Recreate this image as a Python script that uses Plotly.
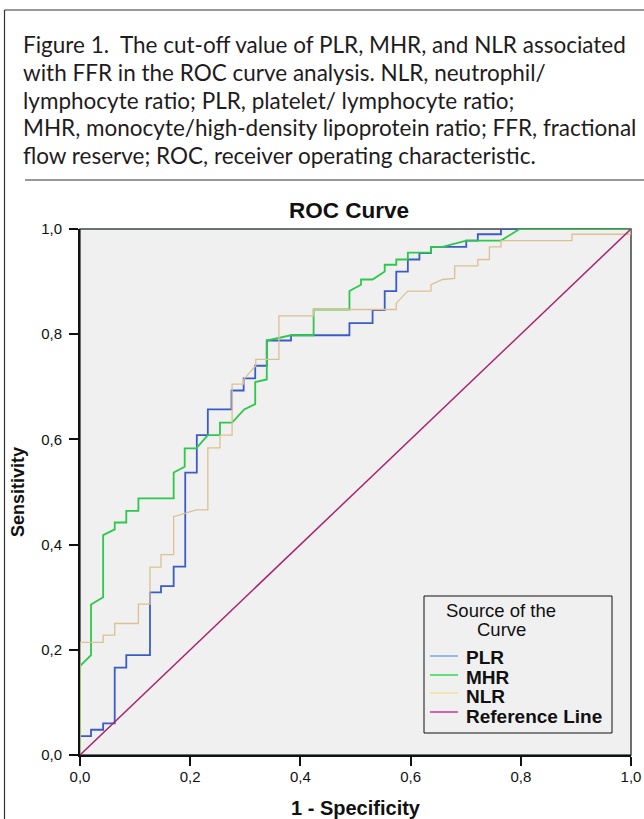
import plotly.graph_objects as go

# ---- data ----
plr_fpr = [0, 0, 0.020, 0.020, 0.042, 0.042, 0.063, 0.063, 0.084, 0.084, 0.127, 0.127,
           0.147, 0.147, 0.170, 0.170, 0.191, 0.191, 0.212, 0.212, 0.232, 0.232, 0.275, 0.275,
           0.297, 0.297, 0.318, 0.318, 0.339, 0.339, 0.383, 0.383, 0.489, 0.489, 0.531, 0.531,
           0.553, 0.553, 0.574, 0.574, 0.595, 0.595, 0.616, 0.616, 0.637, 0.637, 0.701, 0.701,
           0.722, 0.722, 0.764, 0.764, 1.0]
plr_tpr = [0, 0.036, 0.036, 0.048, 0.048, 0.060, 0.060, 0.166, 0.166, 0.190, 0.190, 0.309,
           0.309, 0.321, 0.321, 0.358, 0.358, 0.537, 0.537, 0.608, 0.608, 0.657, 0.657, 0.693,
           0.693, 0.716, 0.716, 0.740, 0.740, 0.788, 0.788, 0.798, 0.798, 0.821, 0.821, 0.846,
           0.846, 0.882, 0.882, 0.919, 0.919, 0.942, 0.942, 0.954, 0.954, 0.966, 0.966, 0.978,
           0.978, 0.990, 0.990, 1.0, 1.0]

mhr_fpr = [0, 0, 0.020, 0.020, 0.042, 0.042, 0.063, 0.063, 0.084, 0.084, 0.106, 0.106,
           0.170, 0.170, 0.190, 0.190, 0.211, 0.232, 0.254, 0.254, 0.276, 0.298, 0.318, 0.318,
           0.339, 0.339, 0.383, 0.424, 0.424, 0.489, 0.489, 0.510, 0.510, 0.531, 0.553, 0.553,
           0.574, 0.574, 0.595, 0.595, 0.637, 0.637, 0.658, 0.701, 0.764, 0.798, 1.0]
mhr_tpr = [0, 0.169, 0.190, 0.286, 0.300, 0.418, 0.429, 0.442, 0.442, 0.464, 0.464, 0.488,
           0.488, 0.537, 0.548, 0.583, 0.583, 0.608, 0.608, 0.632, 0.632, 0.657, 0.667, 0.709,
           0.714, 0.788, 0.798, 0.798, 0.847, 0.847, 0.882, 0.894, 0.904, 0.904, 0.919, 0.932,
           0.932, 0.942, 0.942, 0.955, 0.955, 0.966, 0.966, 0.978, 0.978, 1.0, 1.0]

nlr_fpr = [0, 0, 0.042, 0.042, 0.063, 0.063, 0.106, 0.106, 0.127, 0.127, 0.147, 0.147,
           0.170, 0.170, 0.211, 0.232, 0.232, 0.254, 0.254, 0.276, 0.276, 0.297, 0.297, 0.319,
           0.319, 0.361, 0.361, 0.424, 0.424, 0.574, 0.574, 0.595, 0.637, 0.637, 0.658, 0.680,
           0.680, 0.722, 0.722, 0.743, 0.743, 0.764, 0.764, 0.893, 0.893, 1.0, 1.0]
nlr_tpr = [0, 0.214, 0.214, 0.228, 0.228, 0.250, 0.250, 0.287, 0.287, 0.357, 0.357, 0.381,
           0.381, 0.453, 0.466, 0.466, 0.584, 0.584, 0.608, 0.608, 0.705, 0.705, 0.714, 0.740,
           0.752, 0.752, 0.835, 0.835, 0.847, 0.847, 0.859, 0.882, 0.882, 0.894, 0.904, 0.906,
           0.930, 0.930, 0.942, 0.942, 0.966, 0.966, 0.978, 0.978, 0.990, 0.990, 1.0]

ref_fpr = [0, 1]
ref_tpr = [0, 1]

series_names = ["PLR", "MHR", "NLR", "Reference Line"]
series_colors = ["#3a5cc8", "#2cc84a", "#dbc092", "#a8246f"]
legend_colors = ["#7ea6e6", "#33d957", "#f3e09c", "#cc3399"]

tick_vals = [0, 0.2, 0.4, 0.6, 0.8, 1.0]
tick_text = ["0,0", "0,2", "0,4", "0,6", "0,8", "1,0"]

caption_lines = [
    "Figure 1.  The cut-off value of PLR, MHR, and NLR associated",
    "with FFR in the ROC curve analysis. NLR, neutrophil/",
    "lymphocyte ratio; PLR, platelet/ lymphocyte ratio;",
    "MHR, monocyte/high-density lipoprotein ratio; FFR, fractional",
    "flow reserve; ROC, receiver operating characteristic.",
]

# ---- figure ----
W, H = 644, 819
ML, MR, MT, MB = 80, 13, 229, 64
PW, PH = W - ML - MR, H - MT - MB


def px_x(px):
    return (px - ML) / PW


def px_y(py):
    return (H - MB - py) / PH


fig = go.Figure()
xs = [plr_fpr, mhr_fpr, nlr_fpr, ref_fpr]
ys = [plr_tpr, mhr_tpr, nlr_tpr, ref_tpr]
widths = [1.8, 1.8, 1.3, 1.5]
for x, y, name, col, w in zip(xs, ys, series_names, series_colors, widths):
    fig.add_trace(go.Scatter(x=x, y=y, mode="lines", name=name, showlegend=False,
                             line=dict(color=col, width=w)))

axis_common = dict(
    range=[0, 1], tickvals=tick_vals, ticktext=tick_text,
    showgrid=False, zeroline=False, showline=True, linecolor="#111111", linewidth=2,
    ticks="outside", ticklen=9, tickwidth=2, tickcolor="#111111",
    tickfont=dict(family="Liberation Sans", size=15, color="#111111"),
    layer="below traces",
)

fig.update_layout(
    width=W, height=H,
    margin=dict(l=ML, r=MR, t=MT, b=MB, autoexpand=False),
    paper_bgcolor="white", plot_bgcolor="#f0f0f0",
    xaxis=dict(**axis_common, ticklabelstandoff=-2,
               title=dict(text="1 - Specificity", standoff=18,
                          font=dict(family="Liberation Sans", size=20, color="#111111",
                                    weight="bold"))),
    yaxis=dict(**axis_common, ticklabelstandoff=4,
               title=dict(text="Sensitivity", standoff=12,
                          font=dict(family="Liberation Sans", size=18, color="#111111",
                                    weight="bold"))),
    title=dict(text="ROC Curve", xref="paper", x=px_x(349), xanchor="center",
               yref="container", y=1 - 210 / H, yanchor="middle",
               font=dict(family="Liberation Sans", size=22.5, color="#111111", weight="bold")),
    showlegend=False,
)

# plot border (top / right in dark grey)
fig.add_shape(type="rect", xref="paper", yref="paper", x0=0, y0=0, x1=1, y1=1,
              line=dict(color="#3c4646", width=1.5), layer="below")

# frame of the figure page and separator under the caption
fig.add_shape(type="line", xref="paper", yref="paper",
              x0=px_x(4.5), x1=px_x(4.5), y0=px_y(10), y1=px_y(H + 5),
              line=dict(color="#333333", width=1.2))
fig.add_shape(type="line", xref="paper", yref="paper",
              x0=px_x(4.5), x1=px_x(W + 5), y0=px_y(10), y1=px_y(10),
              line=dict(color="#333333", width=1.2))
fig.add_shape(type="line", xref="paper", yref="paper",
              x0=px_x(25), x1=px_x(W + 5), y0=px_y(180), y1=px_y(180),
              line=dict(color="#333333", width=1.2))

# caption, one annotation per line
caption_y = [45, 73, 100, 127, 155]
for line, cy in zip(caption_lines, caption_y):
    fig.add_annotation(
        text=line, xref="paper", yref="paper",
        x=px_x(21), y=px_y(cy), xanchor="left", yanchor="middle", align="left",
        showarrow=False, font=dict(family="Lato", size=22.5, color="#1f1c1d"),
    )

# legend box (drawn by hand to match the SPSS layout)
fig.add_shape(type="rect", xref="paper", yref="paper",
              x0=px_x(424), x1=px_x(612), y0=px_y(733), y1=px_y(596),
              line=dict(color="#111111", width=1), fillcolor="#f0f0f0", layer="above")
fig.add_annotation(text="Source of the", xref="paper", yref="paper",
                   x=px_x(501), y=px_y(610), xanchor="center", yanchor="middle",
                   showarrow=False,
                   font=dict(family="Liberation Sans", size=18.5, color="#111111"))
fig.add_annotation(text="Curve", xref="paper", yref="paper",
                   x=px_x(501), y=px_y(629), xanchor="center", yanchor="middle",
                   showarrow=False,
                   font=dict(family="Liberation Sans", size=18.5, color="#111111"))
sample_y = [656, 675, 693, 712]
text_y = [657, 677, 696, 716]
for name, col, sy, ty in zip(series_names, legend_colors, sample_y, text_y):
    fig.add_shape(type="line", xref="paper", yref="paper",
                  x0=px_x(430), x1=px_x(458), y0=px_y(sy), y1=px_y(sy),
                  line=dict(color=col, width=1.5), layer="above")
    fig.add_annotation(text=name, xref="paper", yref="paper",
                       x=px_x(464), y=px_y(ty), xanchor="left", yanchor="middle",
                       showarrow=False,
                       font=dict(family="Liberation Sans", size=19, color="#111111",
                                 weight="bold"))

fig.write_html(
    "out.html",
    config={"displayModeBar": False},
    post_script="document.body.style.margin='0';document.body.style.overflow='hidden';",
)
